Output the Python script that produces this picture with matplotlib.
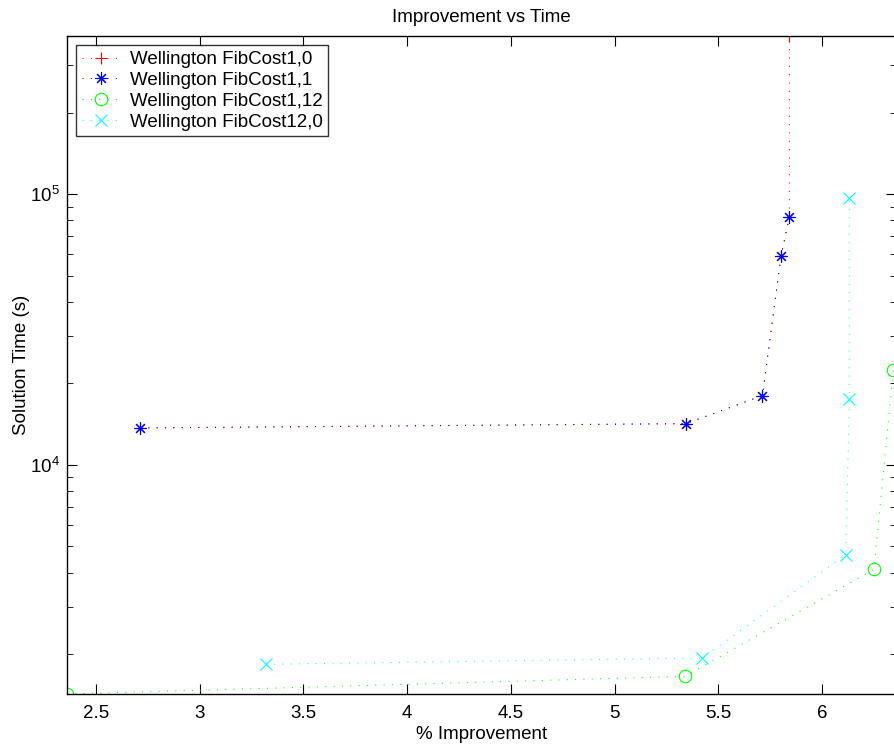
import matplotlib
matplotlib.use("Agg")
import matplotlib.pyplot as plt
from matplotlib.ticker import LogLocator, NullFormatter

plt.rcParams['font.family'] = ['Liberation Sans', 'DejaVu Sans']

# Data
red_x = [2.712, 5.343, 5.713, 5.803, 5.843, 5.843]
red_y = [13700, 14210, 18030, 59200, 82460, 384000]

blue_x = [2.712, 5.343, 5.713, 5.803, 5.843]
blue_y = [13700, 14210, 18030, 59200, 82460]

green_x = [2.360, 5.341, 6.251, 6.344]
green_y = [1426, 1657, 4118, 22430]

cyan_x = [3.318, 5.423, 6.115, 6.132, 6.132]
cyan_y = [1835, 1936, 4663, 17530, 96650]

labels = ['Wellington FibCost1,0', 'Wellington FibCost1,1',
          'Wellington FibCost1,12', 'Wellington FibCost12,0']
xticks = [2.5, 3, 3.5, 4, 4.5, 5, 5.5, 6]
xticklabels = ['2.5', '3', '3.5', '4', '4.5', '5', '5.5', '6']

FS = 13.5

fig = plt.figure(figsize=(8.95, 7.47), dpi=100)
ax = fig.add_axes([67/895, (747-694)/747, (896-67)/895, (694-36)/747])

dots = (0, (1, 7))
common = dict(linestyle=dots, linewidth=0.75, markersize=9, markeredgewidth=0.8)
ax.plot(red_x, red_y, color=(1, 0, 0), marker='+', label=labels[0], **common)
ax.plot(blue_x, blue_y, color=(0, 0, 1), marker=(8, 2, 0), label=labels[1], **common)
ax.plot(green_x, green_y, color=(0, 1, 0), marker='o', markerfacecolor='none',
        label=labels[2], **common)
ax.plot(cyan_x, cyan_y, color=(0, 1, 1), marker='x', label=labels[3], **common)

ax.set_yscale('log')
ax.set_xlim(2.36, 6.357)
ax.set_ylim(1426, 384000)
ax.set_xticks(xticks)
ax.set_xticklabels(xticklabels)
ax.yaxis.set_major_locator(LogLocator(base=10))
ax.yaxis.set_minor_locator(LogLocator(base=10, subs=range(2, 10)))
ax.yaxis.set_minor_formatter(NullFormatter())

ax.tick_params(which='both', direction='in', top=True, right=True, labelsize=FS,
               colors='black')
ax.tick_params(which='major', length=7, width=0.8)
ax.tick_params(which='minor', length=4, width=0.6)
ax.tick_params(axis='x', pad=8)
ax.tick_params(axis='y', pad=5)
for s in ax.spines.values():
    s.set_linewidth(1.0)
    s.set_color('black')

ax.set_title('Improvement vs Time', fontsize=FS, pad=10)
ax.set_xlabel('% Improvement', fontsize=FS, labelpad=3)
ax.set_ylabel('Solution Time (s)', fontsize=FS, labelpad=0)

leg = ax.legend(loc='upper left', fontsize=FS, frameon=True, fancybox=False,
                edgecolor='black', borderaxespad=0.5, handlelength=2.0,
                borderpad=0.3, labelspacing=0.2, handletextpad=0.55)
leg.get_frame().set_linewidth(1.0)

fig.savefig('out.png', dpi=100)
